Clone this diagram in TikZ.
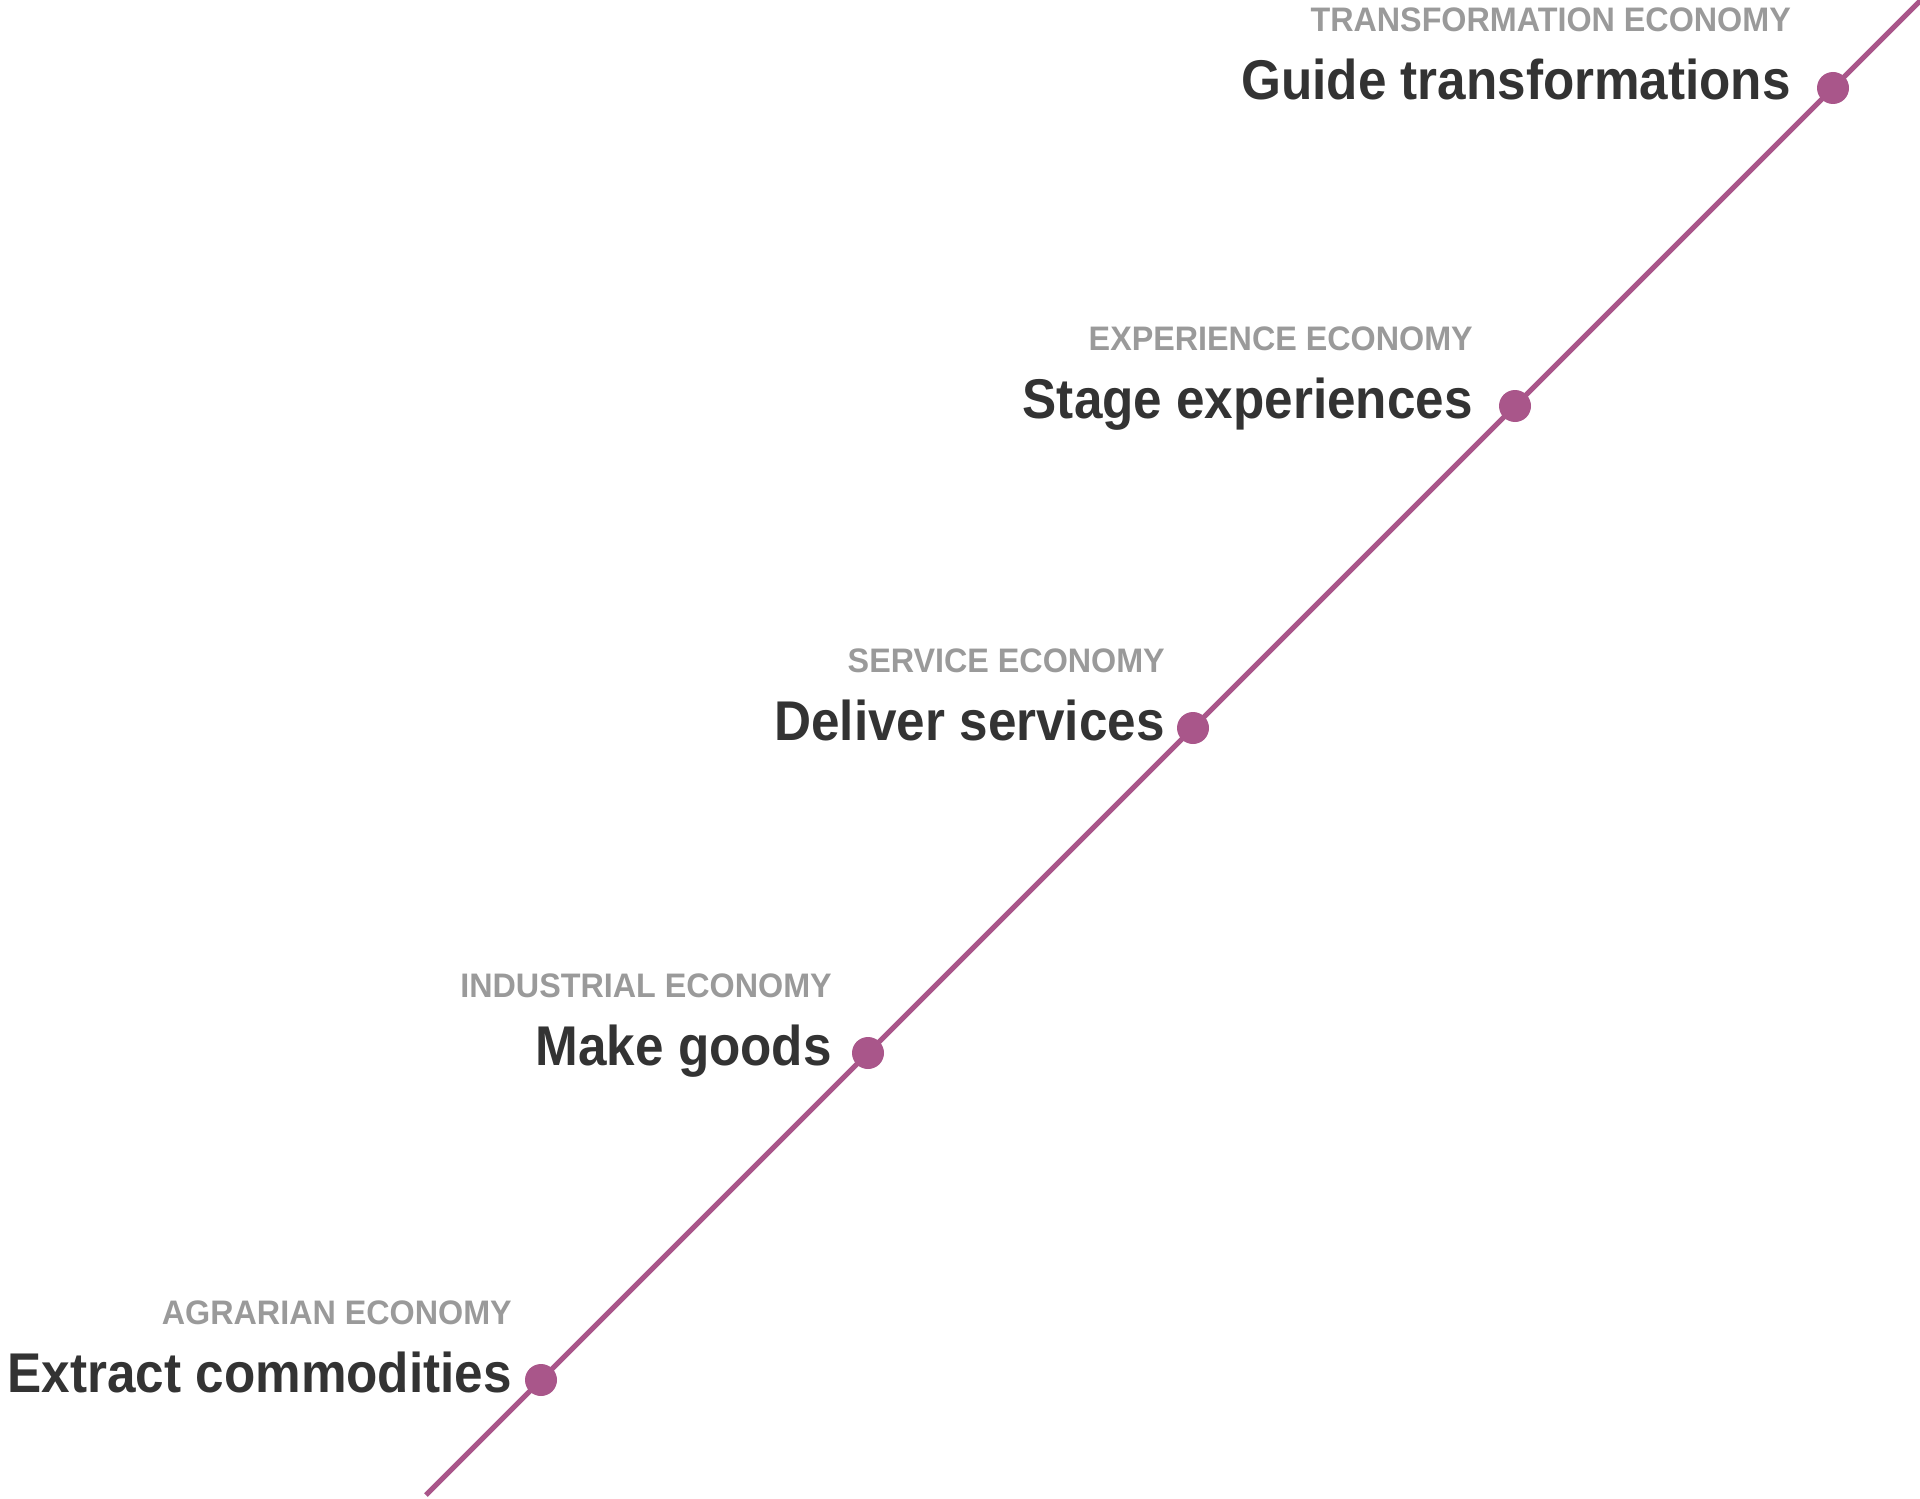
\documentclass[tikz,border=0pt]{standalone}
\usepackage{fontspec}
\setmainfont{Liberation Sans}
\newfontfamily\boldlab[FakeStretch=0.915]{Liberation Sans Bold}
\newfontfamily\graylab[FakeStretch=0.95]{Liberation Sans Bold}
\definecolor{lineplum}{HTML}{A9568A}
\definecolor{capgray}{HTML}{9A9A9A}
\definecolor{darktext}{HTML}{333333}
\tikzset{
  dotmark/.style={circle, fill=lineplum, inner sep=0pt, minimum size=32bp},
  mainlab/.style={anchor=base east, inner sep=0pt, text=darktext, font=\boldlab\fontsize{56bp}{60bp}\selectfont},
  caplab/.style={anchor=base east, inner sep=0pt, text=capgray, font=\graylab\fontsize{34bp}{38bp}\selectfont},
  track/.style={draw=lineplum, line width=5bp}
}
\begin{document}
\begin{tikzpicture}[x=1bp, y=-1bp]
\useasboundingbox (0,0) rectangle (1920,1499);
\clip (0,0) rectangle (1920,1499);
\coordinate (start) at (426,1495);
\coordinate (end) at (1922,-1);
\draw[track] (start) -- (end);
\foreach \n/\x/\y/\r/\cap/\main in {
  1/541/1380/512/AGRARIAN ECONOMY/Extract commodities,
  2/868/1053/832/INDUSTRIAL ECONOMY/Make goods,
  3/1193/728/1165/SERVICE ECONOMY/Deliver services,
  4/1515/406/1473/EXPERIENCE ECONOMY/Stage experiences,
  5/1833/88/1791/TRANSFORMATION ECONOMY/Guide transformations}{
  \node[dotmark] (d\n) at (\x,\y) {};
  \node[mainlab] (m\n) at (\r,\y+12) {\main};
  \node[caplab] (c\n) at (\r,\y-56) {\cap};
}
\end{tikzpicture}
\end{document}
